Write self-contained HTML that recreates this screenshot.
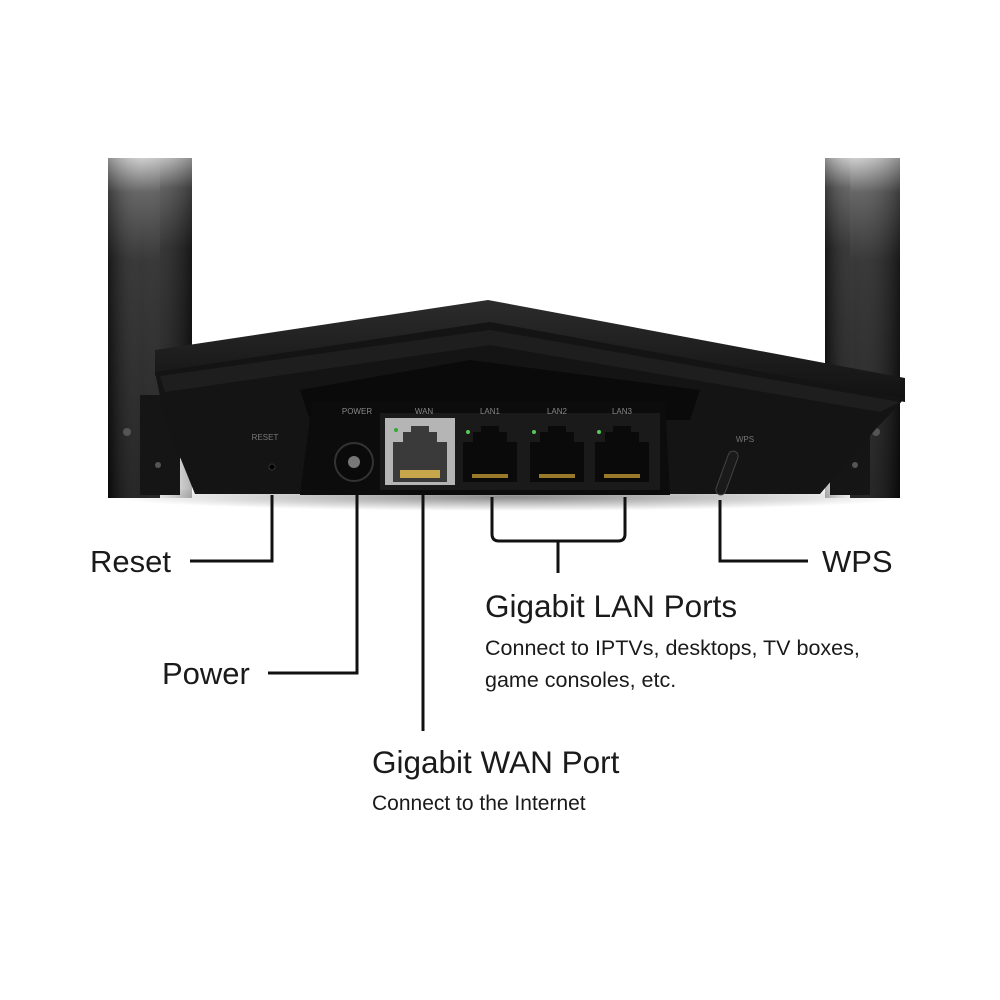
<!DOCTYPE html>
<html><head><meta charset="utf-8"><style>
html,body{margin:0;padding:0;background:#fff;width:1000px;height:1000px;overflow:hidden}
svg{display:block}
text{font-family:"Liberation Sans",sans-serif;fill:#1a1a1a}
</style></head><body>
<svg width="1000" height="1000" viewBox="0 0 1000 1000" xmlns="http://www.w3.org/2000/svg">
<defs>
<linearGradient id="ant" x1="0" y1="0" x2="0" y2="1">
<stop offset="0" stop-color="#c8c8c8"/><stop offset="0.1" stop-color="#555"/><stop offset="0.3" stop-color="#222"/><stop offset="1" stop-color="#0d0d0d"/>
</linearGradient>
<linearGradient id="ant2" x1="0" y1="0" x2="1" y2="0">
<stop offset="0" stop-color="#000" stop-opacity="0.3"/><stop offset="0.4" stop-color="#fff" stop-opacity="0.1"/><stop offset="1" stop-color="#000" stop-opacity="0.3"/>
</linearGradient>
<linearGradient id="top" x1="0" y1="0" x2="0" y2="1">
<stop offset="0" stop-color="#2c2c2c"/><stop offset="1" stop-color="#111"/>
</linearGradient>
<radialGradient id="shadow" cx="0.5" cy="0.5" r="0.5">
<stop offset="0" stop-color="#000" stop-opacity="0.45"/><stop offset="1" stop-color="#000" stop-opacity="0"/>
</radialGradient>
</defs>
<ellipse cx="510" cy="497" rx="400" ry="14" fill="url(#shadow)"/>
<rect x="108" y="158" width="52" height="340" fill="url(#ant)"/>
<rect x="160" y="158" width="32" height="300" fill="url(#ant)"/>
<rect x="108" y="158" width="84" height="340" fill="url(#ant2)"/>
<rect x="825" y="158" width="30" height="300" fill="url(#ant)"/>
<rect x="850" y="158" width="50" height="340" fill="url(#ant)"/>
<rect x="825" y="158" width="75" height="340" fill="url(#ant2)"/>
<rect x="140" y="395" width="40" height="100" fill="#151515"/>
<rect x="830" y="395" width="40" height="100" fill="#151515"/>
<circle cx="127" cy="432" r="4" fill="#555"/><circle cx="876" cy="432" r="4" fill="#555"/>
<circle cx="158" cy="465" r="3" fill="#555"/><circle cx="855" cy="465" r="3" fill="#555"/>
<polygon points="155,350 488,300 905,378 905,402 490,326 155,376" fill="url(#top)"/>
<polygon points="155,372 490,322 905,398 875,430 820,494 195,494 165,420" fill="#141414"/>
<polygon points="160,376 490,330 900,402 880,412 490,345 165,392" fill="#1e1e1e"/>
<polygon points="300,390 470,360 700,390 690,420 310,420" fill="#0a0a0a"/>
<polygon points="312,402 665,402 670,495 300,495" fill="#0c0c0c"/>
<rect x="380" y="413" width="280" height="77" fill="#1a1a1a"/>
<text x="357" y="414" font-size="8" style="fill:#888" text-anchor="middle">POWER</text>
<text x="424" y="414" font-size="8" style="fill:#888" text-anchor="middle">WAN</text>
<text x="490" y="414" font-size="8" style="fill:#888" text-anchor="middle">LAN1</text>
<text x="557" y="414" font-size="8" style="fill:#888" text-anchor="middle">LAN2</text>
<text x="622" y="414" font-size="8" style="fill:#888" text-anchor="middle">LAN3</text>
<text x="265" y="440" font-size="8" style="fill:#777" text-anchor="middle">RESET</text>
<text x="745" y="442" font-size="8" style="fill:#777" text-anchor="middle">WPS</text>
<circle cx="354" cy="462" r="19" fill="#0a0a0a" stroke="#333" stroke-width="2"/>
<circle cx="354" cy="462" r="6" fill="#777"/>
<circle cx="272" cy="467" r="3" fill="#000" stroke="#333"/>
<rect x="385" y="418" width="70" height="67" fill="#b5b5b5"/>
<path d="M393 442 h10 v-10 h8 v-6 h18 v6 h8 v10 h10 v40 h-54z" fill="#3a3a3a"/>
<rect x="400" y="470" width="40" height="8" fill="#c7a54a"/>
<circle cx="396" cy="430" r="2" fill="#3a3"/>
<g fill="#0a0a0a">
<path d="M463 442 h10 v-10 h8 v-6 h18 v6 h8 v10 h10 v40 h-54z"/>
<path d="M530 442 h10 v-10 h8 v-6 h18 v6 h8 v10 h10 v40 h-54z"/>
<path d="M595 442 h10 v-10 h8 v-6 h18 v6 h8 v10 h10 v40 h-54z"/>
</g>
<g fill="#9a7a2a">
<rect x="472" y="474" width="36" height="4"/><rect x="539" y="474" width="36" height="4"/><rect x="604" y="474" width="36" height="4"/>
</g>
<g fill="#5c5"><circle cx="468" cy="432" r="2"/><circle cx="534" cy="432" r="2"/><circle cx="599" cy="432" r="2"/></g>
<rect x="722" y="450" width="10" height="46" rx="5" fill="#1a1a1a" stroke="#444" transform="rotate(20 727 473)"/>
<g stroke="#111" stroke-width="3" fill="none">
<path d="M272 495 V561 H190"/>
<path d="M357 495 V673 H268"/>
<path d="M423 495 V731"/>
<path d="M492 497 V534 Q492 541 499 541 H618 Q625 541 625 534 V497"/>
<path d="M558 541 V573"/>
<path d="M720 500 V561 H808"/>
</g>
<text x="90" y="572" font-size="31">Reset</text>
<text x="162" y="684" font-size="31">Power</text>
<text x="822" y="572" font-size="31">WPS</text>
<text x="485" y="617" font-size="31.5">Gigabit LAN Ports</text>
<text x="485" y="655" font-size="21.5">Connect to IPTVs, desktops, TV boxes,</text>
<text x="485" y="687" font-size="21.5">game consoles, etc.</text>
<text x="372" y="773" font-size="31.5">Gigabit WAN Port</text>
<text x="372" y="810" font-size="21">Connect to the Internet</text>
</svg>
</body></html>
